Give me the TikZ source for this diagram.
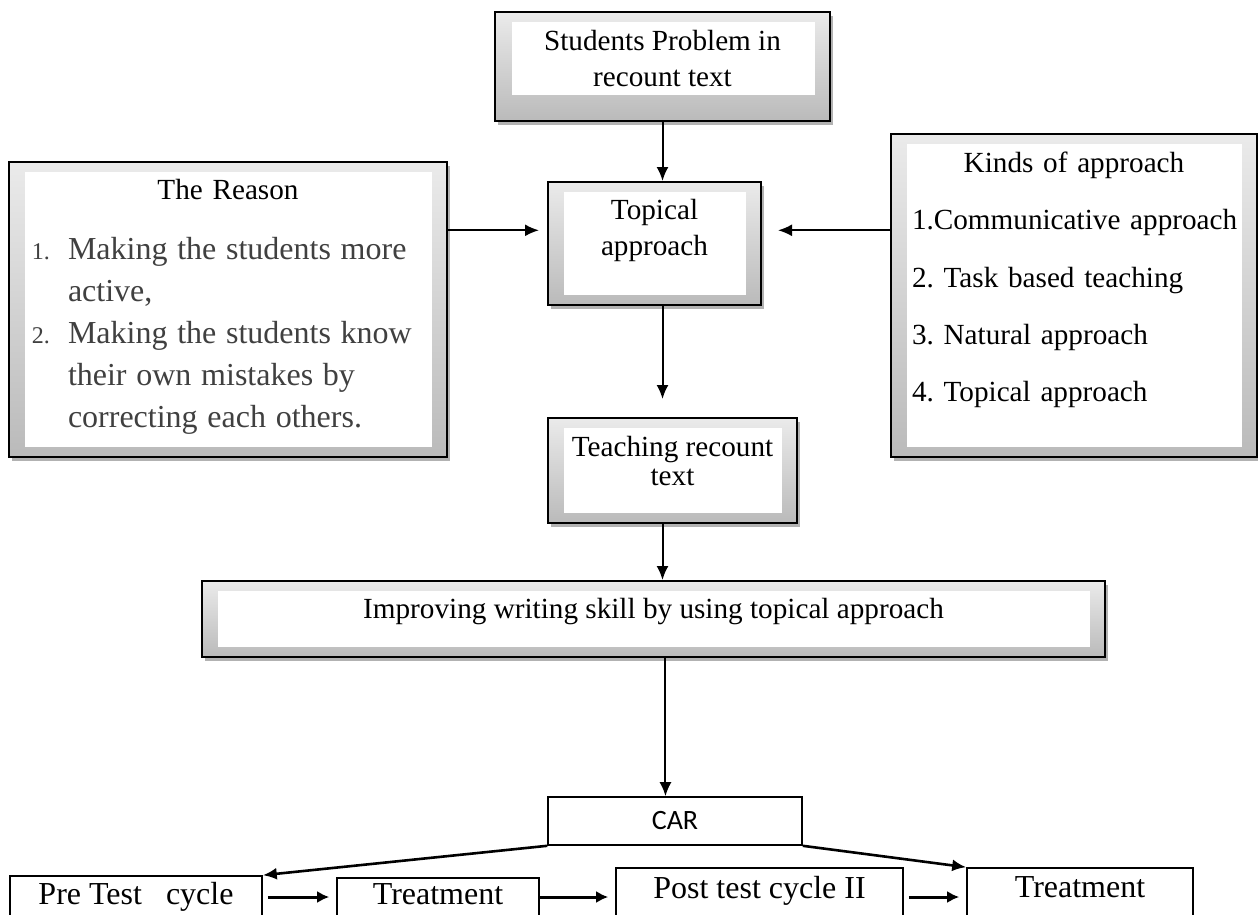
\documentclass[tikz,border=0pt]{standalone}
\usepackage{fontspec}
\setmainfont{Liberation Serif}
\newfontfamily\carfont{Carlito}
\usetikzlibrary{arrows.meta,shadows}
\definecolor{reasongray}{HTML}{404040}
\frenchspacing

\begin{document}
\begin{tikzpicture}[x=0.5pt,y=-0.5pt]
\tikzstyle{bevel}=[rectangle, draw=black, line width=1pt, top color=black!8, bottom color=black!27,
  drop shadow={shadow xshift=1.5pt, shadow yshift=-2pt, fill=black, opacity=0.3},
  path picture={\fill[white] ([shift={(8pt,5pt)}]path picture bounding box.south west) rectangle ([shift={(-7.5pt,-5pt)}]path picture bounding box.north east);},
  inner sep=0pt, align=center, font=\fontsize{14.6}{18}\selectfont]
\tikzstyle{bevel low}=[bevel,
  path picture={\fill[white] ([shift={(8.5pt,13pt)}]path picture bounding box.south west) rectangle ([shift={(-7.5pt,-5pt)}]path picture bounding box.north east);}]
\tikzstyle{plain}=[rectangle, draw=black, line width=0.8pt, inner sep=0pt]
\tikzstyle{cell}=[plain, font=\fontsize{16}{19}\selectfont]
\tikzstyle{connect}=[-{Latex[length=7pt,width=6pt]}, line width=1pt]
\tikzstyle{flow}=[-{Latex[length=6pt,width=6pt]}, line width=1.5pt]
\useasboundingbox (0,0) rectangle (1258,915);
\clip (0,0) rectangle (1258,915);

% upper part
\node[bevel low, minimum width=167.5pt, minimum height=54.5pt] (stud) at (662.5,66.5) {Students Problem in\\recount text\rule[-8.5pt]{0pt}{8.5pt}};
\node[bevel, minimum width=106.5pt, minimum height=61.5pt] (topic) at (654.5,243.5) {Topical\\approach\rule[-16.5pt]{0pt}{16.5pt}};
\node[bevel, minimum width=219pt, minimum height=147.5pt, text width=196pt, align=left] (reason) at (228,309.5) {%
  \hyphenpenalty=10000
  {\centering The Reason\par}\vspace{9pt}%
  \color{reasongray}\fontsize{16}{21}\selectfont
  \hangindent=18pt\hangafter=1\noindent\makebox[18pt][l]{\fontsize{12}{21}\selectfont 1.}Making the students more active,\par
  \hangindent=18pt\hangafter=1\noindent\makebox[18pt][l]{\fontsize{12}{21}\selectfont 2.}Making the students know their own mistakes by correcting each others.\rule[-6pt]{0pt}{6pt}\par};
\node[bevel, minimum width=183pt, minimum height=161.5pt, text width=170pt, align=left] (kinds) at (1074,295.5) {%
  \baselineskip=28.7pt{\centering Kinds of approach\par}%
  \leftskip=4pt
  1.Communicative approach\\
  2. Task based teaching\\
  3. Natural approach\\
  4. Topical approach\rule[-18.7pt]{0pt}{18.7pt}\par};
\node[bevel, minimum width=124.5pt, minimum height=52.5pt] (teach) at (672.5,470.5) {Teaching recount\\[-3.5pt]text\rule[-10pt]{0pt}{10pt}};
\node[bevel, minimum width=451.5pt, minimum height=38pt] (improv) at (653.5,619) {Improving writing skill by using topical approach\rule[-11pt]{0pt}{11pt}};

% lower part
\node[plain, minimum width=127pt, minimum height=24pt, font=\carfont\fontsize{14}{16}\selectfont] (car) at (675,821) {CAR};
\node[cell, minimum width=126pt, minimum height=21pt] (pre) at (136,897) {Pre Test~~~cycle};
\node[cell, minimum width=101pt, minimum height=19pt] (tre1) at (438,897) {Treatment\rule[-3pt]{0pt}{3pt}};
\node[cell, minimum width=143.5pt, minimum height=29pt] (post) at (759.5,897) {Post test cycle II\rule[-10pt]{0pt}{10pt}};
\node[cell, minimum width=113pt, minimum height=29pt] (tre2) at (1080,897) {Treatment\rule[-10pt]{0pt}{10pt}};

\path (stud) edge [connect] (stud |- topic.north);
\path (reason.east |- topic.173) edge [connect, shorten >=4pt] (topic.173);
\path (kinds.west |- topic.7) edge [connect, shorten >=8pt] (topic.7);
\path (topic.south -| stud) edge [connect, shorten >=9pt] (teach.north -| stud);
\path (teach.south -| stud) edge [connect] (improv.north -| stud);
\path (improv.south -| car.111) edge [connect] (car.111);
\path (car.south west) edge [connect, line width=1.3pt] (pre.north east);
\path (car.south east) edge [connect, line width=1.3pt] (tre2.north west);
\path (pre) edge [flow, shorten <=2.5pt, shorten >=3.5pt] (tre1);
\path (tre1) edge [flow, shorten >=3.5pt] (post);
\path (post) edge [flow, shorten <=2.5pt, shorten >=3.5pt] (tre2);
\end{tikzpicture}
\end{document}
